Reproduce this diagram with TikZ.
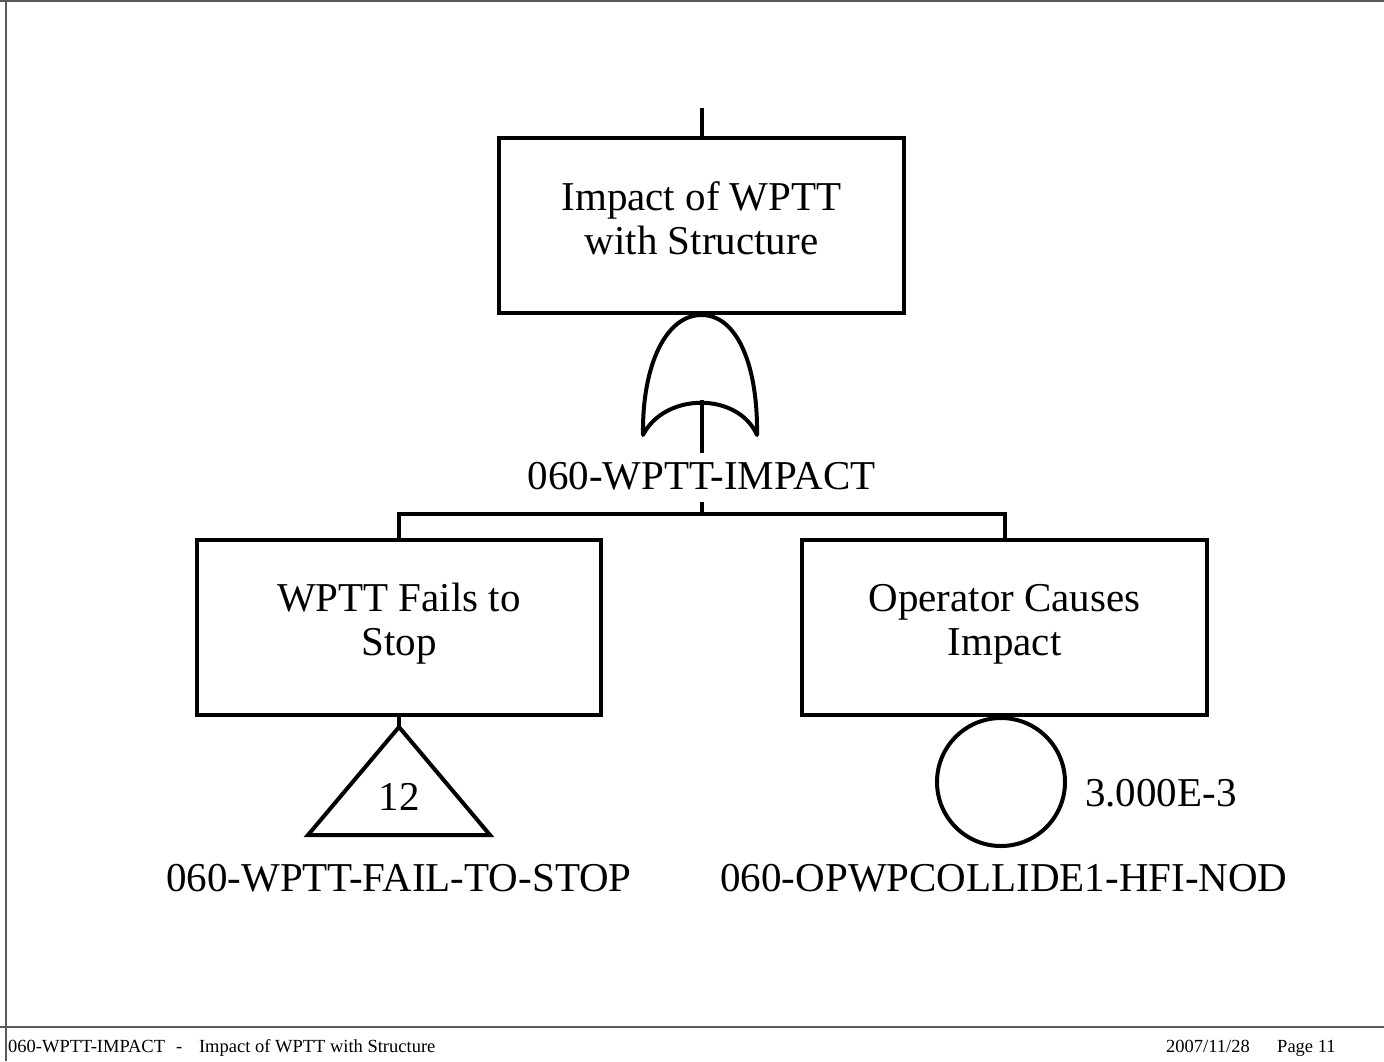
\documentclass[tikz,border=0pt]{standalone}
\usepackage{fontspec}
\setmainfont{Liberation Serif}
\begin{document}
\begin{tikzpicture}[x=1pt,y=-1pt,
  thick line/.style={line width=4pt},
  framestyle/.style={line width=1.5pt, draw=black!65},
  boxnode/.style={draw, line width=4pt, rectangle, inner sep=0pt, minimum height=175pt},
  boxtext/.style={align=center, inner sep=0pt, font=\fontsize{41}{44}\selectfont},
  bigtext/.style={inner sep=0pt, font=\fontsize{41}{44}\selectfont},
  foottext/.style={inner sep=0pt, anchor=base west, font=\fontsize{18.5}{20}\selectfont},
  eventcircle/.style={draw, circle, line width=4pt, inner sep=0pt, minimum size=128pt}
]
\useasboundingbox (0,0) rectangle (1384,1061);
% frame
\coordinate (ftl) at (6,0);
\coordinate (fbl) at (6,1061);
\coordinate (ttl) at (0,0.75);
\coordinate (ttr) at (1384,0.75);
\coordinate (fl) at (0,1027);
\coordinate (fr) at (1384,1027);
\draw[framestyle] (ftl) -- (fbl);
\draw[framestyle] (ttl) -- (ttr);
\draw[framestyle] (fl) -- (fr);

% boxes
\node[boxnode, minimum width=405pt] (top) at (701.5,225) {};
\node[boxtext] (toptxt) at (701.5,218) {Impact of WPTT\\with Structure};
\node[boxnode, minimum width=404pt] (left) at (399,627) {};
\node[boxtext] (lefttxt) at (399,624) {WPTT Fails to\\Stop};
\node[boxnode, minimum width=405pt] (right) at (1004.5,627) {};
\node[boxtext] (righttxt) at (1004.5,624) {Operator Causes\\Impact};

% top connector
\coordinate (topin) at (701.5,108);
\draw[thick line] (topin) -- (top.north);

% OR gate
\draw[thick line, line join=round]
  (643,435) .. controls (642,365) and (666,315) .. (701.5,315)
  .. controls (737,315) and (758,365) .. (757,435)
  .. controls (738,392) and (665,392) .. (643,435) -- cycle;
\coordinate (gin) at (701.5,400);
\coordinate (gout) at (701.5,453);
\coordinate (gbar) at (701.5,502);
\coordinate (bar) at (701.5,514);
\draw[thick line] (gin) -- (gout);
\node[bigtext] (gatelbl) at (701.5,476) {060-WPTT-IMPACT};
\draw[thick line] (gbar) -- (bar);
\draw[thick line] (left.north) |- (bar) -| (right.north);

% transfer triangle
\coordinate (tri) at (399,727);
\draw[thick line] (left.south) -- (tri);
\draw[thick line, line join=miter] (tri) -- (490,835) -- (308,835) -- cycle;
\node[bigtext] (trinum) at (399,797) {12};
\node[bigtext] (trilbl) at (399,878) {060-WPTT-FAIL-TO-STOP};

% basic event
\node[eventcircle] (ev) at (1001,782) {};
\draw[thick line] (right.south) -- (ev.north);
\node[bigtext, anchor=west] (prob) at (1085,793) {3.000E-3};
\node[bigtext] (evlbl) at (1004,878) {060-OPWPCOLLIDE1-HFI-NOD};

% footer
\node[foottext] (f1) at (8,1052) {060-WPTT-IMPACT\hspace{0.6em}-\hspace{0.9em}Impact of WPTT with Structure};
\node[foottext] (f2) at (1166,1052) {2007/11/28};
\node[foottext] (f3) at (1277,1052) {Page 11};
\end{tikzpicture}
\end{document}
